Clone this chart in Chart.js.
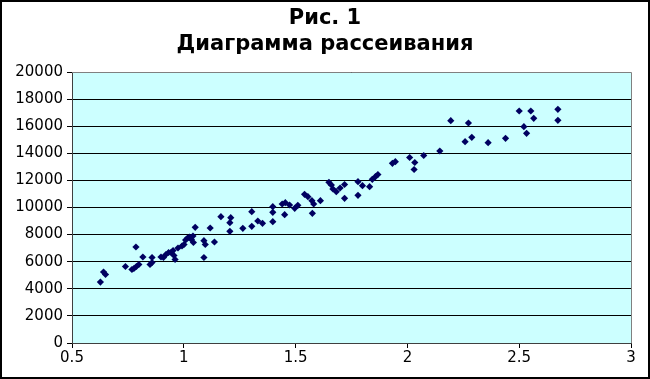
<!DOCTYPE html>
<html>
<head>
<meta charset="utf-8">
<script src="https://cdn.jsdelivr.net/npm/chart.js@4.4.1/dist/chart.umd.min.js"></script>
<style>
html,body{margin:0;padding:0;background:#fff;}
#wrap{width:650px;height:379px;}
</style>
</head>
<body>
<div id="wrap"><canvas id="c" width="650" height="379"></canvas></div>
<script>
const titleLines = ["Рис. 1", "Диаграмма рассеивания"];
const xValues = [0.627,0.641,0.650,0.739,0.768,0.777,0.788,0.799,0.786,0.817,0.849,0.858,0.858,0.898,0.909,0.920,0.932,0.943,0.952,0.956,0.961,0.974,0.992,1.001,1.008,1.017,1.026,1.034,1.043,1.041,1.051,1.090,1.096,1.090,1.118,1.137,1.166,1.206,1.210,1.206,1.264,1.304,1.304,1.331,1.352,1.398,1.398,1.398,1.440,1.454,1.451,1.473,1.496,1.510,1.540,1.555,1.573,1.581,1.575,1.611,1.649,1.660,1.667,1.682,1.699,1.719,1.719,1.779,1.779,1.799,1.831,1.843,1.857,1.868,1.933,1.946,2.010,2.033,2.030,2.073,2.145,2.194,2.258,2.288,2.273,2.361,2.439,2.500,2.552,2.565,2.521,2.533,2.673,2.673];
const yValues = [4500,5240,5055,5646,5424,5498,5646,5793,7085,6347,5793,5941,6310,6347,6310,6531,6679,6679,6827,6458,6162,7011,7159,7269,7601,7749,7823,7638,7417,7897,8539,7550,7269,6310,8487,7454,9321,8878,9247,8243,8465,9690,8612,9004,8834,10059,9646,8952,10258,10354,9469,10184,9941,10162,10974,10797,10502,10258,9572,10502,11860,11660,11365,11166,11439,11697,10679,11904,10900,11609,11535,12081,12273,12435,13262,13380,13690,13321,12804,13838,14170,16406,14856,15181,16236,14782,15107,17122,17122,16583,15963,15476,17247,16435];
const xTicks = [0.5,1,1.5,2,2.5,3];
const yTicks = [0,2000,4000,6000,8000,10000,12000,14000,16000,18000,20000];

const points = xValues.map((x,i)=>({x:x,y:yValues[i]}));

const frame = {
  id:'frame',
  beforeDraw(chart){
    const c = chart.ctx, a = chart.chartArea;
    c.save();
    c.fillStyle = '#ffffff';
    c.fillRect(0,0,chart.width,chart.height);
    c.fillStyle = '#CCFFFF';
    c.fillRect(a.left,a.top,a.right-a.left,a.bottom-a.top);
    c.restore();
  },
  afterDraw(chart){
    const c = chart.ctx, a = chart.chartArea;
    c.save();
    c.strokeStyle = '#808080';
    c.lineWidth = 1;
    c.beginPath();
    c.moveTo(a.left, a.top+0.5); c.lineTo(a.right+0.5, a.top+0.5); c.lineTo(a.right+0.5, a.bottom);
    c.stroke();
    c.strokeStyle = '#000000';
    c.lineWidth = 2;
    c.strokeRect(1,1,chart.width-2,chart.height-2);
    c.restore();
  }
};

new Chart(document.getElementById('c'), {
  type: 'scatter',
  data: {
    datasets: [{
      data: points,
      pointStyle: 'rectRot',
      pointRadius: 3.6,
      pointHoverRadius: 3.6,
      backgroundColor: '#000060',
      borderColor: '#000060',
      borderWidth: 0
    }]
  },
  options: {
    responsive: false,
    animation: false,
    devicePixelRatio: 1,
    layout: { padding: 0 },
    plugins: {
      legend: { display: false },
      tooltip: { enabled: false },
      title: {
        display: true,
        text: titleLines,
        color: '#000000',
        font: { family: 'DejaVu Sans', size: 21, weight: 'bold', lineHeight: 1.25 },
        padding: { top: 5, bottom: 14.5 }
      }
    },
    scales: {
      x: {
        type: 'linear',
        min: 0.5, max: 3,
        afterBuildTicks(s){ s.ticks = xTicks.map(v=>({value:v})); },
        afterFit(s){ s.height = 36; },
        ticks: {
          color: '#000000',
          font: { family: 'DejaVu Sans', size: 15 },
          padding: 1,
          maxRotation: 0,
          callback: v => String(v)
        },
        grid: { drawOnChartArea: false, drawTicks: true, tickLength: 5, color: '#000000' },
        border: { color: '#404040', width: 1 }
      },
      y: {
        type: 'linear',
        min: 0, max: 20000,
        afterBuildTicks(s){ s.ticks = yTicks.map(v=>({value:v})); },
        afterFit(s){ s.width = 72; },
        ticks: {
          color: '#000000',
          font: { family: 'DejaVu Sans', size: 15 },
          padding: 4,
          callback: v => String(v)
        },
        grid: { drawOnChartArea: true, drawTicks: true, tickLength: 5, color: '#000000', lineWidth: 1 },
        border: { color: '#404040', width: 1 }
      },
      yRight: {
        type: 'linear',
        position: 'right',
        display: true,
        min: 0, max: 20000,
        afterFit(s){ s.width = 19; },
        ticks: { display: false },
        grid: { display: false, drawOnChartArea: false, drawTicks: false },
        border: { display: false }
      }
    }
  },
  plugins: [frame]
});
</script>
</body>
</html>
